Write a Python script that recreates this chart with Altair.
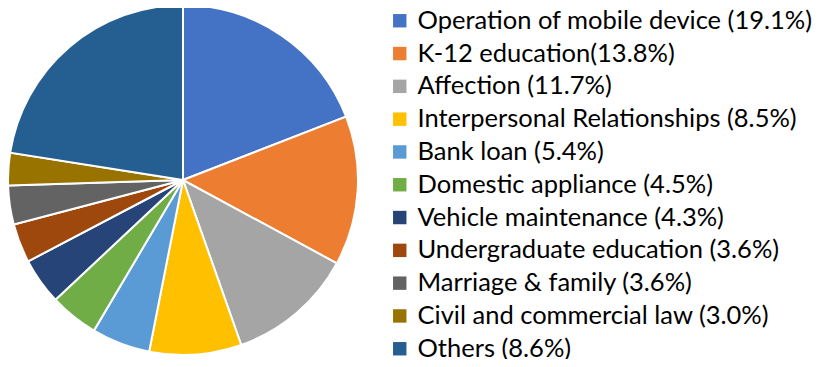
import altair as alt
import pandas as pd

categories = [
    "Operation of mobile device", "K-12 education", "Affection",
    "Interpersonal Relationships", "Bank loan", "Domestic appliance",
    "Vehicle maintenance", "Undergraduate education", "Marriage & family",
    "Civil and commercial law", "Others",
]
legend_labels = [
    "Operation of mobile device (19.1%)", "K-12 education(13.8%)",
    "Affection (11.7%)", "Interpersonal Relationships (8.5%)",
    "Bank loan (5.4%)", "Domestic appliance (4.5%)",
    "Vehicle maintenance  (4.3%)", "Undergraduate education (3.6%)",
    "Marriage &  family (3.6%)", "Civil and commercial law (3.0%)",
    "Others (8.6%)",
]
# slice shares as drawn (Others slice fills the remainder of the circle)
shares = [19.1, 13.8, 11.7, 8.5, 5.4, 4.5, 4.3, 3.6, 3.6, 3.0, 22.5]
colors = ["#4472C4", "#ED7D31", "#A5A5A5", "#FFC000", "#5B9BD5", "#70AD47",
          "#264478", "#9E480E", "#636363", "#997300", "#255E91"]

df = pd.DataFrame({
    "label": legend_labels,
    "share": shares,
    "idx": list(range(len(shares))),
})

chart = alt.Chart(df).mark_arc(radius=175, stroke="white", strokeWidth=2).encode(
    theta=alt.Theta("share:Q", stack=True),
    order=alt.Order("idx:Q"),
    x=alt.value(175),
    y=alt.value(172),
    color=alt.Color(
        "label:N",
        sort=legend_labels,
        scale=alt.Scale(domain=legend_labels, range=colors),
        legend=alt.Legend(
            title=None, orient="none", legendX=379, legendY=0, padding=0,
            symbolType="square", symbolSize=180, symbolStrokeWidth=0,
            labelFont="Lato", labelFontSize=25.5, labelColor="#000000",
            labelLimit=600, rowPadding=5.8, labelOffset=5,
        ),
    ),
).properties(
    width=814, height=351,
    autosize=alt.AutoSizeParams(type="none"),
    padding={"left": 0, "top": 0, "right": 0, "bottom": 0},
).configure_view(stroke=None)

chart.save("out.html", embed_options={"renderer": "svg", "actions": False})
